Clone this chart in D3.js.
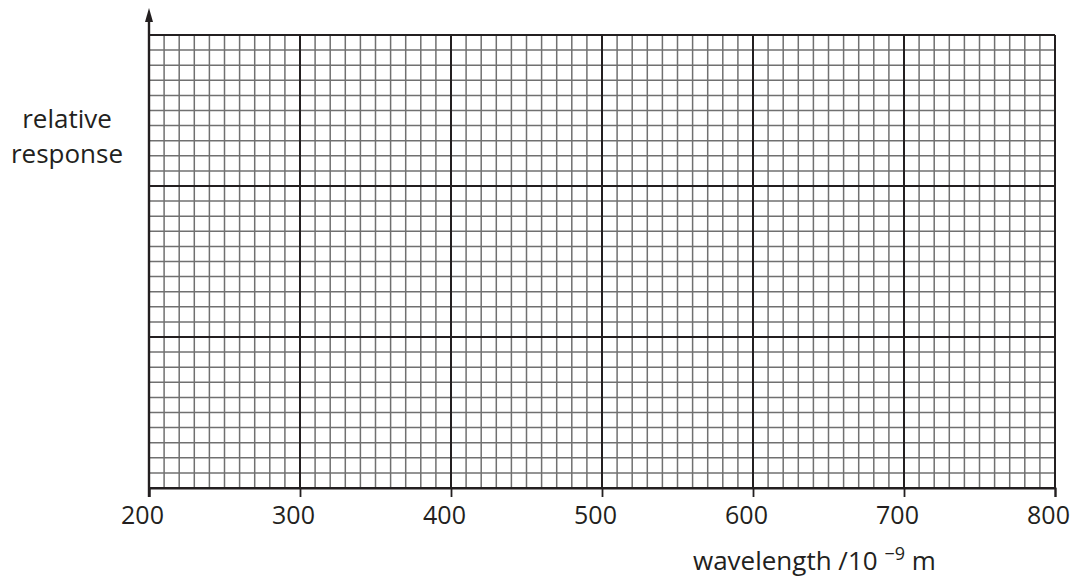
<!DOCTYPE html>
<html>
<head>
<meta charset="utf-8">
<script src="https://cdn.jsdelivr.net/npm/d3@7"></script>
<style>
  html, body { margin: 0; padding: 0; background: #fff; }
  svg { display: block; }
  text { font-family: "Open Sans", "DejaVu Sans", sans-serif; fill: #231f20; }
</style>
</head>
<body>
<svg id="chart" width="1072" height="578"></svg>
<script>
// ---- data ----
const xDomain = [200, 800];
const xTickValues = [200, 300, 400, 500, 600, 700, 800];
const xMinorStep = 10;
const yDomain = [0, 3];
const yMajorValues = [0, 1, 2, 3];
const yMinorStep = 0.1;
const yLabelLines = ["relative", "response"];
const xLabelText = "wavelength /10";
const xLabelExp = "\u22129";
const xLabelUnit = " m";

// ---- layout ----
const svg = d3.select("#chart");
const x = d3.scaleLinear().domain(xDomain).range([149, 1055]);
const y = d3.scaleLinear().domain(yDomain).range([488, 35]);

const minorX = d3.range(xDomain[0], xDomain[1] + 0.001, xMinorStep);
const minorY = d3.range(0, 30.001, 1).map(i => i * yMinorStep);

const g = svg.append("g");

// minor grid
g.append("g").selectAll("line").data(minorX).join("line")
  .attr("x1", d => x(d)).attr("x2", d => x(d))
  .attr("y1", y(yDomain[0])).attr("y2", y(yDomain[1]))
  .attr("stroke", "#707070").attr("stroke-width", 1.5);
g.append("g").selectAll("line").data(minorY).join("line")
  .attr("x1", x(xDomain[0])).attr("x2", x(xDomain[1]))
  .attr("y1", d => y(d)).attr("y2", d => y(d))
  .attr("stroke", "#707070").attr("stroke-width", 1.5);

// major grid
g.append("g").selectAll("line").data(xTickValues).join("line")
  .attr("x1", d => x(d)).attr("x2", d => x(d))
  .attr("y1", y(yDomain[0])).attr("y2", y(yDomain[1]))
  .attr("stroke", "#231f20").attr("stroke-width", 2);
g.append("g").selectAll("line").data(yMajorValues).join("line")
  .attr("x1", x(xDomain[0])).attr("x2", x(xDomain[1]))
  .attr("y1", d => y(d)).attr("y2", d => y(d))
  .attr("stroke", "#231f20").attr("stroke-width", 2);

// x axis with ticks & labels
const xAxis = d3.axisBottom(x).tickValues(xTickValues).tickSize(9).tickPadding(9)
  .tickFormat(d3.format("d"));
const ax = svg.append("g").attr("transform", `translate(0,${y(0)})`).call(xAxis);
ax.select(".domain").attr("stroke", "#231f20").attr("stroke-width", 2);
ax.selectAll(".tick line").attr("stroke", "#231f20").attr("stroke-width", 1.8);
ax.selectAll(".tick text").attr("font-size", 25).attr("dx", -7)
  .attr("font-family", "Open Sans, sans-serif").attr("fill", "#231f20");

// y axis line with arrow
svg.append("line")
  .attr("x1", x(xDomain[0])).attr("x2", x(xDomain[0]))
  .attr("y1", y(0) + 9).attr("y2", 20)
  .attr("stroke", "#231f20").attr("stroke-width", 2.4);
const ax0 = x(xDomain[0]);
svg.append("path")
  .attr("d", `M${ax0},8 L${ax0 + 4},22 L${ax0 - 4},22 Z`)
  .attr("fill", "#231f20");

// y label
svg.append("text")
  .attr("x", 67).attr("y", 128)
  .attr("text-anchor", "middle").attr("font-size", 26)
  .selectAll("tspan").data(yLabelLines).join("tspan")
  .attr("x", 67).attr("dy", (d, i) => i === 0 ? 0 : 35)
  .text(d => d);

// x label
const xl = svg.append("text")
  .attr("x", 693).attr("y", 570)
  .attr("font-size", 26);
xl.append("tspan").text(xLabelText + " ");
xl.append("tspan").attr("font-size", 18).attr("dy", -10).text(xLabelExp);
xl.append("tspan").attr("dy", 10).text(xLabelUnit);
</script>
</body>
</html>
